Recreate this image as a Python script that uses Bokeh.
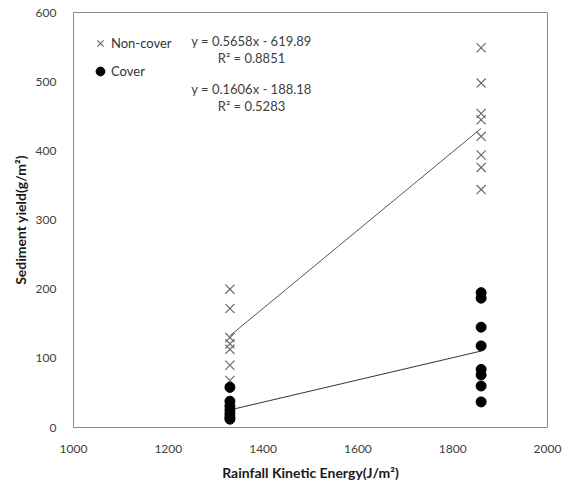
from bokeh.plotting import figure
from bokeh.models import Label, Range1d, FixedTicker, Legend, LegendItem
from bokeh.embed import file_html
from bokeh.resources import INLINE

# Rainfall kinetic energy (J/m2) for the two storm groups
energy_low = 1330
energy_high = 1860

# Sediment yield (g/m2) without cover
noncover_low = [200, 172, 130, 121, 113, 90, 68]
noncover_high = [549, 498, 454, 445, 421, 394, 376, 344]

# Sediment yield (g/m2) with cover
cover_low = [58, 38, 31, 25, 20, 15, 12]
cover_high = [195, 187, 145, 118, 84, 76, 60, 37]

# Linear fits reported on the chart
fit_noncover = (0.5658, -619.89, 0.8851)
fit_cover = (0.1606, -188.18, 0.5283)

x_ticks = [1000, 1200, 1400, 1600, 1800, 2000]
y_ticks = [0, 100, 200, 300, 400, 500, 600]

FONT = "Lato"

p = figure(width=570, height=483, output_backend="svg", toolbar_location=None,
           x_range=Range1d(1000, 2000), y_range=Range1d(0, 600),
           min_border_left=73, min_border_right=23, min_border_top=12, min_border_bottom=54)

p.background_fill_color = "white"
p.border_fill_color = "white"
p.outline_line_color = "#8c8c8c"
p.outline_line_width = 1
p.xgrid.visible = False
p.ygrid.visible = False

for ax in (p.xaxis[0], p.yaxis[0]):
    ax.axis_line_color = None
    ax.major_tick_line_color = None
    ax.minor_tick_line_color = None
    ax.major_label_text_font = FONT
    ax.major_label_text_font_size = "12px"
    ax.major_label_text_color = "#404040"
    ax.axis_label_text_font = FONT
    ax.axis_label_text_font_size = "14px"
    ax.axis_label_text_font_style = "bold"
    ax.axis_label_text_color = "#1a1a1a"

p.xaxis.ticker = FixedTicker(ticks=x_ticks)
p.yaxis.ticker = FixedTicker(ticks=y_ticks)
p.xaxis.major_label_standoff = 11
p.yaxis.major_label_standoff = 11
p.xaxis.axis_label = "Rainfall Kinetic Energy(J/m²)"
p.yaxis.axis_label = "Sediment yield(g/m²)"
p.xaxis.axis_label_standoff = 8
p.yaxis.axis_label_standoff = 4

nc_x = [energy_low] * len(noncover_low) + [energy_high] * len(noncover_high)
nc_y = noncover_low + noncover_high
c_x = [energy_low] * len(cover_low) + [energy_high] * len(cover_high)
c_y = cover_low + cover_high

# Trend lines between the two energy levels
xs = [energy_low, energy_high]
p.line(xs, [fit_noncover[0] * x + fit_noncover[1] for x in xs], line_color="#555555", line_width=1)
p.line(xs, [fit_cover[0] * x + fit_cover[1] for x in xs], line_color="#333333", line_width=1)

r_nc = p.scatter(nc_x, nc_y, marker="x", size=13, line_color="#6a6a6a", line_width=1.2)
r_c = p.scatter(c_x, c_y, marker="circle", size=10, fill_color="black", line_color="black")

legend = Legend(items=[LegendItem(label="Non-cover", renderers=[r_nc]),
                       LegendItem(label="Cover", renderers=[r_c])],
                location=(16, 345))
legend.border_line_color = None
legend.background_fill_alpha = 0
legend.margin = 0
legend.padding = 2
legend.glyph_width = 22
legend.glyph_height = 22
legend.label_standoff = -3
legend.spacing = 6
legend.label_text_font = FONT
legend.label_text_font_size = "13px"
legend.label_text_color = "#333333"
p.add_layout(legend)

def eq_text(fit):
    sign = "-" if fit[1] < 0 else "+"
    return f"y = {fit[0]:.4f}x {sign} {abs(fit[1]):.2f}", f"R² = {fit[2]:.4f}"

for fit, top in ((fit_noncover, 42), (fit_cover, 90)):
    eq, r2 = eq_text(fit)
    p.add_layout(Label(x=251 - 73, y=483 - 54 - top, x_units="screen", y_units="screen",
                       text=eq, text_font=FONT, text_font_size="13px", text_color="#404040",
                       text_align="center", text_baseline="middle"))
    p.add_layout(Label(x=251 - 73, y=483 - 54 - top - 17, x_units="screen", y_units="screen",
                       text=r2, text_font=FONT, text_font_size="13px", text_color="#404040",
                       text_align="center", text_baseline="middle"))

open("out.html", "w").write(file_html(p, INLINE))
